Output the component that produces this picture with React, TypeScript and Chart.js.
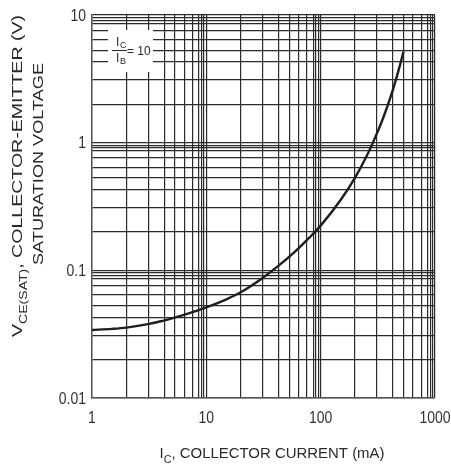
import React, { useEffect, useRef } from 'react';
import { Chart, registerables } from 'chart.js';

Chart.register(...registerables);

// ---- data ----
const collectorCurrentMA = [1, 1.5, 2, 3, 4, 5, 7, 10, 15, 20, 30, 40, 60, 80, 100, 150, 200, 250, 300, 350, 400, 450, 500, 530];
const vceSatV = [0.0341, 0.0348, 0.0356, 0.0377, 0.0399, 0.0421, 0.046, 0.0513, 0.0593, 0.0673, 0.0851, 0.1035, 0.141, 0.181, 0.224, 0.357, 0.533, 0.771, 1.1, 1.54, 2.15, 3.01, 4.22, 5.15];

const xDecades = [1, 10, 100, 1000];
const xTickLabels = ['1', '10', '100', '1000'];
const yDecades = [0.01, 0.1, 1, 10];
const yTickLabels = ['0.01', '0.1', '1', '10'];
// grid line multipliers inside each decade (as printed on the reference's log paper)
const gridMultipliers = [2, 3.1, 4.3, 5.3, 6.4, 7.6, 8.6, 9.1, 9.55];

const FONT = '"Liberation Sans", Arial, Helvetica, sans-serif';
const TEXT = '#2a2a2a';
const STRETCH = 1.12;

function gridValues(decades: number[]) {
  const out: number[] = [];
  decades.forEach((d, i) => {
    out.push(d);
    if (i < decades.length - 1) gridMultipliers.forEach((m) => out.push(d * m));
  });
  return out.sort((a, b) => a - b);
}

type Part = { t: string; sub?: boolean };

function drawRich(ctx: CanvasRenderingContext2D, parts: Part[], cx: number, cy: number, size: number, targetLen: number, rotate: boolean) {
  ctx.save();
  ctx.translate(cx, cy);
  if (rotate) ctx.rotate(-Math.PI / 2);
  const subSize = size * 0.72;
  let w = 0;
  const widths = parts.map((p) => {
    ctx.font = `${p.sub ? subSize : size}px ${FONT}`;
    const m = ctx.measureText(p.t).width;
    w += m;
    return m;
  });
  const sx = targetLen ? targetLen / w : 1;
  ctx.scale(sx, 1);
  ctx.fillStyle = TEXT;
  ctx.textBaseline = 'alphabetic';
  ctx.textAlign = 'left';
  const base = size * 0.36;
  let x = -w / 2;
  parts.forEach((p, i) => {
    ctx.font = `${p.sub ? subSize : size}px ${FONT}`;
    ctx.fillText(p.t, x, p.sub ? base + size * 0.28 : base);
    x += widths[i];
  });
  ctx.restore();
}

function drawLabel(ctx: CanvasRenderingContext2D, text: string, x: number, y: number, align: CanvasTextAlign) {
  ctx.save();
  ctx.translate(x, y);
  ctx.scale(1, STRETCH);
  ctx.font = `14px ${FONT}`;
  ctx.fillStyle = '#333';
  ctx.textAlign = align;
  ctx.textBaseline = 'alphabetic';
  ctx.fillText(text, 0, 14 * 0.36);
  ctx.restore();
}

const annotationPlugin = {
  id: 'annotations',
  beforeDatasetsDraw(chart: any) {
    const ctx: CanvasRenderingContext2D = chart.ctx;
    ctx.save();
    // white patch behind the ratio label
    ctx.fillStyle = '#ffffff';
    ctx.fillRect(108, 30, 45, 42);
    ctx.fillStyle = TEXT;
    ctx.textBaseline = 'alphabetic';
    ctx.textAlign = 'left';
    ctx.font = `12px ${FONT}`;
    ctx.fillText('I', 116, 46);
    ctx.font = `9px ${FONT}`;
    ctx.fillText('C', 120, 48);
    ctx.font = `12px ${FONT}`;
    ctx.fillText('I', 116, 62);
    ctx.font = `9px ${FONT}`;
    ctx.fillText('B', 120, 64);
    ctx.strokeStyle = TEXT;
    ctx.lineWidth = 1;
    ctx.beginPath();
    ctx.moveTo(112, 50.5);
    ctx.lineTo(127, 50.5);
    ctx.stroke();
    ctx.font = `12px ${FONT}`;
    ctx.fillText('= 10', 127, 55);
    ctx.restore();
  },
  afterDraw(chart: any) {
    const ctx: CanvasRenderingContext2D = chart.ctx;
    const xs = chart.scales.x;
    const ys = chart.scales.y;
    xDecades.forEach((v, i) => drawLabel(ctx, xTickLabels[i], xs.getPixelForValue(v), chart.chartArea.bottom + 19, 'center'));
    yDecades.forEach((v, i) => drawLabel(ctx, yTickLabels[i], chart.chartArea.left - 6, ys.getPixelForValue(v), 'right'));
    drawRich(ctx, [{ t: 'V' }, { t: 'CE(SAT)', sub: true }, { t: ', COLLECTOR-EMITTER (V)' }], 17, 176, 15, 322, true);
    drawRich(ctx, [{ t: 'SATURATION VOLTAGE' }], 38, 164, 15, 202, true);
    drawRich(ctx, [{ t: 'I' }, { t: 'C', sub: true }, { t: ', COLLECTOR CURRENT (mA)' }], 272, 453, 15, 225, false);
  },
};

export default function App() {
  const ref = useRef<HTMLCanvasElement>(null);
  useEffect(() => {
    if (!ref.current) return;
    const points = collectorCurrentMA.map((x, i) => ({ x, y: vceSatV[i] }));
    const xGrid = gridValues(xDecades);
    const yGrid = gridValues(yDecades);
    const chart = new Chart(ref.current, {
      type: 'line',
      data: {
        datasets: [
          {
            data: points,
            borderColor: '#1e1e1e',
            borderWidth: 2.4,
            pointRadius: 0,
            cubicInterpolationMode: 'monotone',
            fill: false,
          },
        ],
      },
      options: {
        responsive: false,
        devicePixelRatio: 1,
        animation: false,
        layout: { padding: { left: 0, right: 16, top: 15, bottom: 0 } },
        plugins: { legend: { display: false }, tooltip: { enabled: false }, title: { display: false } },
        scales: {
          x: {
            type: 'logarithmic',
            min: xDecades[0],
            max: xDecades[xDecades.length - 1],
            afterBuildTicks: (axis: any) => {
              axis.ticks = xGrid.map((v) => ({ value: v }));
            },
            afterFit: (axis: any) => {
              axis.height = 66;
              axis.paddingLeft = 0;
              axis.paddingRight = 0;
            },
            grid: { color: '#2b2b2b', lineWidth: 1.2, drawTicks: false },
            border: { display: true, color: '#555', width: 1.4 },
            ticks: { display: false, autoSkip: false, maxRotation: 0 },
          },
          y: {
            type: 'logarithmic',
            min: yDecades[0],
            max: yDecades[yDecades.length - 1],
            afterBuildTicks: (axis: any) => {
              axis.ticks = yGrid.map((v) => ({ value: v }));
            },
            afterFit: (axis: any) => {
              axis.width = 92;
              axis.paddingTop = 0;
              axis.paddingBottom = 0;
            },
            grid: { color: '#2b2b2b', lineWidth: 1.2, drawTicks: false },
            border: { display: true, color: '#555', width: 1.4 },
            ticks: { display: false, autoSkip: false },
          },
        },
      },
      plugins: [annotationPlugin],
    } as any);
    return () => chart.destroy();
  }, []);
  return (
    <div style={{ position: 'fixed', left: 0, top: 0, width: 451, height: 464, background: '#fff' }}>
      <canvas ref={ref} width={451} height={464} style={{ display: 'block', width: 451, height: 464 }} />
    </div>
  );
}
